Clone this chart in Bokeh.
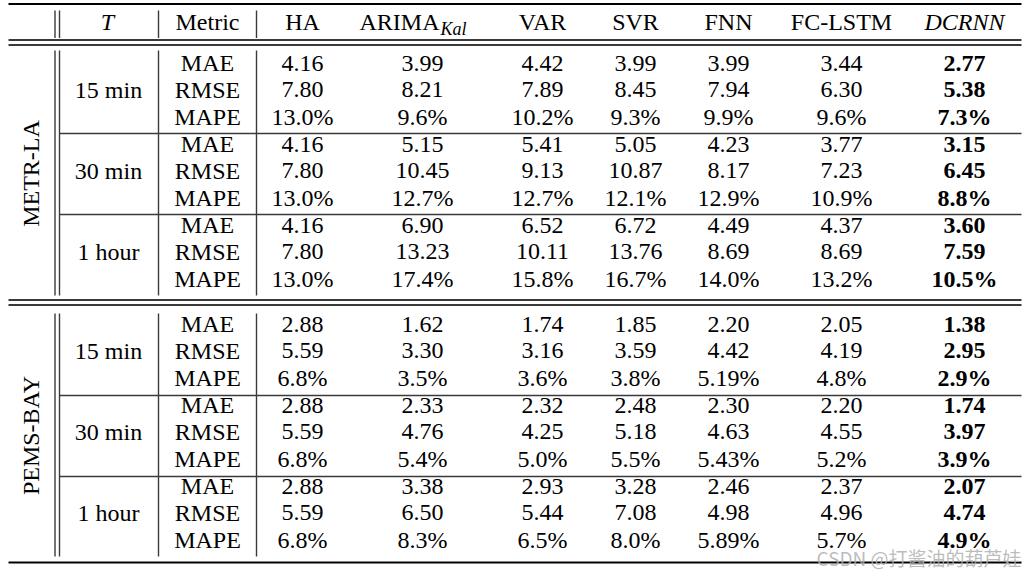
import math
from bokeh.plotting import figure
from bokeh.models import Range1d, ColumnDataSource
from bokeh.core.properties import value
from bokeh.embed import file_html
from bokeh.resources import INLINE

# ---------------- data ----------------
methods = ["HA", "ARIMA", "VAR", "SVR", "FNN", "FC-LSTM", "DCRNN"]
datasets = ["METR-LA", "PEMS-BAY"]
horizons = ["15 min", "30 min", "1 hour"]
metrics = ["MAE", "RMSE", "MAPE"]

# each list: 15 min (MAE, RMSE, MAPE), 30 min (...), 1 hour (...)
metr_ha = ["4.16", "7.80", "13.0%", "4.16", "7.80", "13.0%", "4.16", "7.80", "13.0%"]
metr_arima = ["3.99", "8.21", "9.6%", "5.15", "10.45", "12.7%", "6.90", "13.23", "17.4%"]
metr_var = ["4.42", "7.89", "10.2%", "5.41", "9.13", "12.7%", "6.52", "10.11", "15.8%"]
metr_svr = ["3.99", "8.45", "9.3%", "5.05", "10.87", "12.1%", "6.72", "13.76", "16.7%"]
metr_fnn = ["3.99", "7.94", "9.9%", "4.23", "8.17", "12.9%", "4.49", "8.69", "14.0%"]
metr_fclstm = ["3.44", "6.30", "9.6%", "3.77", "7.23", "10.9%", "4.37", "8.69", "13.2%"]
metr_dcrnn = ["2.77", "5.38", "7.3%", "3.15", "6.45", "8.8%", "3.60", "7.59", "10.5%"]

pems_ha = ["2.88", "5.59", "6.8%", "2.88", "5.59", "6.8%", "2.88", "5.59", "6.8%"]
pems_arima = ["1.62", "3.30", "3.5%", "2.33", "4.76", "5.4%", "3.38", "6.50", "8.3%"]
pems_var = ["1.74", "3.16", "3.6%", "2.32", "4.25", "5.0%", "2.93", "5.44", "6.5%"]
pems_svr = ["1.85", "3.59", "3.8%", "2.48", "5.18", "5.5%", "3.28", "7.08", "8.0%"]
pems_fnn = ["2.20", "4.42", "5.19%", "2.30", "4.63", "5.43%", "2.46", "4.98", "5.89%"]
pems_fclstm = ["2.05", "4.19", "4.8%", "2.20", "4.55", "5.2%", "2.37", "4.96", "5.7%"]
pems_dcrnn = ["1.38", "2.95", "2.9%", "1.74", "3.97", "3.9%", "2.07", "4.74", "4.9%"]

watermark = "CSDN @打酱油的葫芦娃"

# ---------------- layout ----------------
FONT = "Liberation Serif"
FS = "24px"
DY = -8.5          # correction between requested and drawn text baseline
col_x = [302, 422, 542, 635, 728, 841, 964]
T_X, METRIC_X = 107, 207
HEADER_BASE = 30 + DY
sec_base = [71 + DY, 332 + DY]
GROUP_STEP = 81
ROW_STEP = 26.8
X_LEFT, X_RIGHT = 8, 1021

p = figure(width=1036, height=578, output_backend="svg", toolbar_location=None,
           x_range=Range1d(0, 1036), y_range=Range1d(578, 0), title=None,
           x_axis_location=None, y_axis_location=None, min_border=0,
           background_fill_color="white", border_fill_color="white")
p.grid.visible = False
p.outline_line_color = None

# ---------------- rules ----------------
line_col = "#3a3a3a"
p.segment(x0=[X_LEFT, X_LEFT], y0=[3.5, 562], x1=[X_RIGHT, X_RIGHT], y1=[3.5, 562],
          line_color="black", line_width=2.2)
dbl_y = [39.5, 44.5, 299.5, 304.5]
p.segment(x0=[X_LEFT] * 4, y0=dbl_y, x1=[X_RIGHT] * 4, y1=dbl_y,
          line_color=line_col, line_width=1.8)
sep_y = [133, 214, 395, 476]
p.segment(x0=[59] * 4, y0=sep_y, x1=[X_RIGHT] * 4, y1=sep_y,
          line_color=line_col, line_width=1.4)
vx = [54.5, 59, 158, 256]
spans = [(10, 37.5), (50, 295), (313, 556)]
vx0, vy0, vx1, vy1 = [], [], [], []
for (a, b) in spans:
    for x in vx:
        vx0.append(x); vx1.append(x); vy0.append(a); vy1.append(b)
p.segment(x0=vx0, y0=vy0, x1=vx1, y1=vy1, line_color=line_col, line_width=1.4)

# ---------------- header ----------------
p.text(x=[T_X], y=[HEADER_BASE], text=["T"], text_font=value(FONT), text_font_size=FS,
       text_font_style="italic", text_align="center", text_baseline="alphabetic", text_color="black")
hdr_x = [METRIC_X, col_x[0], col_x[2], col_x[3], col_x[4], col_x[5]]
hdr_t = ["Metric", methods[0], methods[2], methods[3], methods[4], methods[5]]
p.text(x=hdr_x, y=[HEADER_BASE] * len(hdr_x), text=hdr_t, text_font=value(FONT), text_font_size=FS,
       text_align="center", text_baseline="alphabetic", text_color="black")
p.text(x=[439], y=[HEADER_BASE], text=[methods[1]], text_font=value(FONT), text_font_size=FS,
       text_align="right", text_baseline="alphabetic", text_color="black")
p.text(x=[440], y=[30 + 5 - 6.4], text=["Kal"], text_font=value(FONT), text_font_size="18px",
       text_font_style="italic", text_align="left", text_baseline="alphabetic", text_color="black")
p.text(x=[col_x[6]], y=[HEADER_BASE], text=[methods[6]], text_font=value(FONT), text_font_size=FS,
       text_font_style="italic", text_align="center", text_baseline="alphabetic", text_color="black")

# ---------------- body ----------------
tables = [
    [metr_ha, metr_arima, metr_var, metr_svr, metr_fnn, metr_fclstm, metr_dcrnn],
    [pems_ha, pems_arima, pems_var, pems_svr, pems_fnn, pems_fclstm, pems_dcrnn],
]
nx, ny, nt = [], [], []
bx, by, bt = [], [], []
mx, my, mt = [], [], []
hx, hy, ht = [], [], []
for d, cols in enumerate(tables):
    for h, hname in enumerate(horizons):
        base = sec_base[d] + h * GROUP_STEP
        hx.append(T_X + 1); hy.append(base + ROW_STEP); ht.append(hname)
        for m, mname in enumerate(metrics):
            y = base + m * ROW_STEP
            mx.append(METRIC_X); my.append(y); mt.append(mname)
            for c, vals in enumerate(cols):
                v = vals[h * 3 + m]
                if c == len(cols) - 1:
                    bx.append(col_x[c]); by.append(y); bt.append(v)
                else:
                    nx.append(col_x[c]); ny.append(y); nt.append(v)

common = dict(text_font=value(FONT), text_font_size=FS, text_align="center",
              text_baseline="alphabetic", text_color="black")
p.text(x="x", y="y", text="t", source=ColumnDataSource(dict(x=nx, y=ny, t=nt)), **common)
p.text(x="x", y="y", text="t", source=ColumnDataSource(dict(x=mx, y=my, t=mt)), **common)
p.text(x="x", y="y", text="t", source=ColumnDataSource(dict(x=hx, y=hy, t=ht)), **common)
p.text(x="x", y="y", text="t", source=ColumnDataSource(dict(x=bx, y=by, t=bt)),
       text_font_style="bold", **common)

# dataset labels (rotated)
p.text(x=[39 + DY, 39 + DY], y=[173, 435], text=datasets, angle=math.pi / 2, **common)

# watermark
p.text(x=[1021], y=[564 - 6.7], text=[watermark], text_font=value("Noto Sans CJK SC"),
       text_font_size="19px", text_align="right", text_baseline="alphabetic",
       text_color="#b0b0b0", text_alpha=0.85)

open("out.html", "w").write(file_html(p, INLINE))
